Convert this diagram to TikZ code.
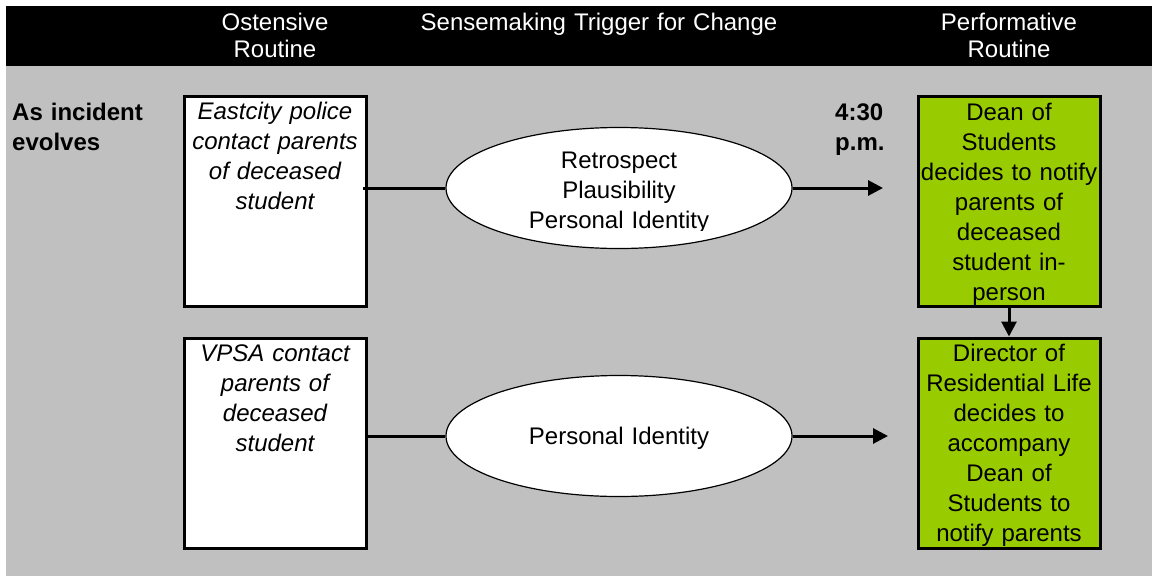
\documentclass[tikz,border=0pt]{standalone}
\usepackage{fontspec}
\setmainfont{Liberation Sans}
\usetikzlibrary{shapes.geometric,arrows.meta}
\definecolor{panelgray}{HTML}{C0C0C0}
\definecolor{leafgreen}{HTML}{99CC00}
\begin{document}
\begin{tikzpicture}[x=1pt,y=-1pt,
  bodyfont/.style={font=\fontsize{24}{30}\selectfont},
  headtext/.style={font=\fontsize{24}{27}\selectfont, text=white, text width=360pt, align=center, inner sep=0pt, anchor=base},
  sidelabel/.style={font=\fontsize{24}{30}\selectfont\bfseries, text width=160pt, align=left, inner sep=0pt, anchor=base west},
  routinebox/.style={draw=black, line width=3pt, minimum width=182pt, minimum height=210pt, inner sep=0pt},
  ostbox/.style={routinebox, fill=white},
  perfbox/.style={routinebox, fill=leafgreen},
  trigger/.style={ellipse, draw=black, line width=1.2pt, fill=white, minimum width=346pt, minimum height=121pt, inner sep=0pt},
  boxtext/.style={bodyfont, text width=200pt, align=center, inner sep=0pt, anchor=base},
  ostext/.style={boxtext, font=\fontsize{24}{30}\selectfont\itshape},
  link/.style={line width=3pt},
  arrowlink/.style={link, -{Triangle[length=15pt,width=15pt]}},
]
% page and panels
\useasboundingbox (0,0) rectangle (1152,576);
\fill[white] (0,0) rectangle (1152,576);
\fill[black] (6,6) rectangle (1152,66);
\fill[panelgray] (6,66) rectangle (1152,576);

% column headings
\node[headtext] (hOst) at (275,30) {Ostensive\\Routine};
\node[headtext, text width=420pt] (hTrig) at (599,30) {Sensemaking Trigger for Change};
\node[headtext] (hPerf) at (1009,30) {Performative\\Routine};

% row label and time stamp
\node[sidelabel] (rowlab) at (12,120) {As incident\\evolves};
\node[sidelabel, text width=60pt] (time) at (835,120) {4:30\\p.m.};

% ostensive routines
\node[ostbox] (e1) at (275,201) {};
\node[ostbox] (e2) at (275,443) {};
\node[ostext] (e1t) at (275,119) {Eastcity police\\contact parents\\of deceased\\student};
\node[ostext] (e2t) at (275,361) {VPSA contact\\parents of\\deceased\\student};

% performative routines
\node[perfbox] (g1) at (1009,201) {};
\node[perfbox] (g2) at (1009,443) {};
\node[boxtext] (g1t) at (1009,120) {Dean of\\Students\\decides to notify\\parents of\\deceased\\student in-\\person};
\node[boxtext] (g2t) at (1009,361) {Director of\\Residential Life\\decides to\\accompany\\Dean of\\Students to\\notify parents};

% sensemaking triggers
\node[trigger] (c1) at (619,188) {};
\node[trigger] (c2) at (619,436) {};
\begin{scope}
  \clip (440,130) rectangle (800,230);
  \node[boxtext] (c1t) at (619,168) {Retrospect\\Plausibility\\Personal Identity};
\end{scope}
\node[boxtext] (c2t) at (619,444) {Personal Identity};

% connectors
\coordinate (s1) at (363,188);
\coordinate (a1) at (883,188);
\coordinate (a2) at (888,436);
\draw[link] (s1) -- (c1.west);
\draw[arrowlink] (c1.east) -- (a1);
\draw[link] (e2.east |- c2.west) -- (c2.west);
\draw[arrowlink] (c2.east) -- (a2);
\draw[arrowlink] (g1.south) -- (g2.north);
\end{tikzpicture}
\end{document}
